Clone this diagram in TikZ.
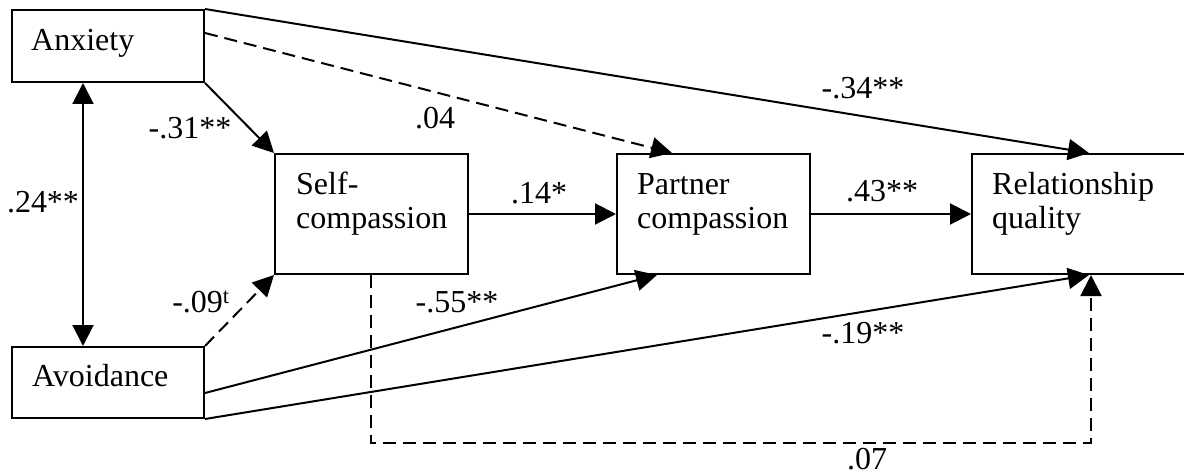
\documentclass[tikz,border=0pt]{standalone}
\usepackage{fontspec}
\setmainfont{Liberation Serif}
\usetikzlibrary{arrows.meta,calc}
\begin{document}
\begin{tikzpicture}[x=1pt,y=-1pt,
  every node/.style={font=\fontsize{32}{35}\selectfont},
  varbox/.style={draw, line width=2pt, inner sep=0pt},
  vartext/.style={anchor=base west, inner sep=0pt, align=left},
  coef/.style={inner sep=0pt},
  oneway/.style={line width=2pt, -{Triangle[length=21pt,width=21pt]}},
  twoway/.style={line width=2pt, {Triangle[length=21pt,width=21pt]}-{Triangle[length=21pt,width=21pt]}},
  nonsig/.style={dash pattern=on 13pt off 7pt}]
\useasboundingbox (0,0) rectangle (1184,476);

% variables
\node[varbox, minimum width=192pt, minimum height=72pt] (anx) at (108,46) {};
\node[varbox, minimum width=192pt, minimum height=71pt] (avo) at (108,382.5) {};
\node[varbox, minimum width=193pt, minimum height=120pt] (self) at (371.5,214) {};
\node[varbox, minimum width=193pt, minimum height=120pt] (par) at (713.5,214) {};
\node[varbox, minimum width=228pt, minimum height=120pt] (rel) at (1086,214) {};

% variable names (base anchor sits on the last line)
\node[vartext] (anxT) at ($(anx.north west)+(20,42)$) {Anxiety};
\node[vartext] (avoT) at ($(avo.north west)+(21,40)$) {Avoidance};
\node[vartext] (selfT) at ($(self.north west)+(22,76)$) {Self-\\compassion};
\node[vartext] (parT) at ($(par.north west)+(21,76)$) {Partner\\compassion};
\node[vartext] (relT) at ($(rel.north west)+(21,76)$) {Relationship\\quality};

% paths
\draw[twoway] ($(anx.south west)+(72,0)$) -- ($(avo.north west)+(72,0)$);
\draw[oneway] (anx.south east) -- (self.north west);
\draw[oneway, nonsig] ($(anx.north east)+(0,24)$) -- ($(par.north west)+(56,0)$);
\draw[oneway] (anx.north east) -- ($(rel.north west)+(118,0)$);
\draw[oneway, nonsig] (avo.north east) -- (self.south west);
\draw[oneway] ($(avo.north east)+(0,47)$) -- ($(par.south west)+(41,0)$);
\draw[oneway] (avo.south east) -- ($(rel.south west)+(118,0)$);
\draw[oneway] (self.east) -- (par.west);
\draw[oneway] (par.east) -- (rel.west);
\draw[oneway, nonsig] ($(self.south west)+(97,0)$) -- ++(0,168) -| ($(rel.south west)+(120,0)$);

% coefficients
\node[coef] (c1) at (190,128) {-.31**};
\node[coef] (c2) at (43,202) {.24**};
\node[coef] (c3) at (435,118) {.04};
\node[coef] (c4) at (539,193) {.14*};
\node[coef] (c5) at (457,302) {-.55**};
\node[coef] (c6) at (201,302) {-.09\textsuperscript{t}};
\node[coef] (c7) at (863,88) {-.34**};
\node[coef] (c8) at (882,191) {.43**};
\node[coef] (c9) at (863,333) {-.19**};
\node[coef] (c10) at (867,459) {.07};
\end{tikzpicture}
\end{document}
